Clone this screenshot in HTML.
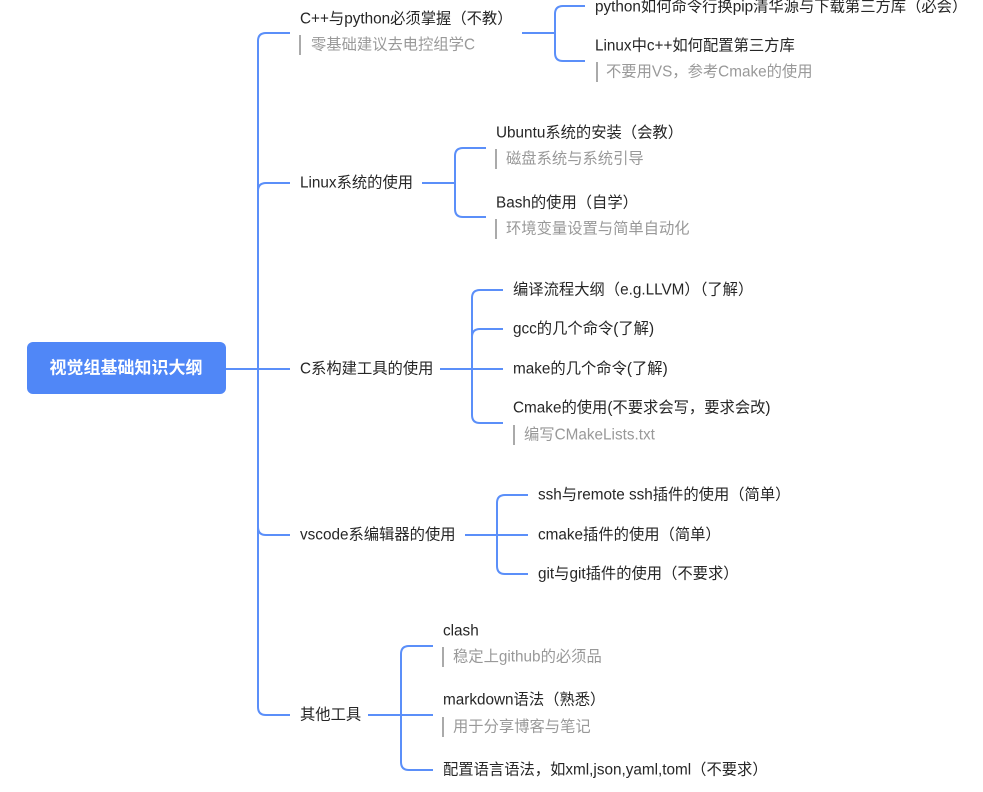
<!DOCTYPE html>
<html><head><meta charset="utf-8"><style>
html,body{margin:0;padding:0;background:#fff;width:983px;height:792px;overflow:hidden}
svg text{font-family:"Liberation Sans","Noto Sans CJK SC",sans-serif;font-size:15.3px;fill:#262626;dominant-baseline:central}
svg text.n{fill:#999}
</style></head><body>
<svg width="983" height="792" viewBox="0 0 983 792" xmlns="http://www.w3.org/2000/svg">
<g fill="none" stroke="#5b8ff9" stroke-width="2">
<path d="M226 369 H290"/>
<path d="M290 33 H266 Q258 33 258 41 V707 Q258 715 266 715 H290"/>
<path d="M258 191 Q258 183 266 183 H290"/>
<path d="M258 527 Q258 535 266 535 H290"/>
<path d="M522 33 H555"/>
<path d="M585 6 H563 Q555 6 555 14 V53 Q555 61 563 61 H585"/>
<path d="M422 183 H455"/>
<path d="M486 148 H463 Q455 148 455 156 V209 Q455 217 463 217 H486"/>
<path d="M440 369 H503"/>
<path d="M503 290 H480 Q472 290 472 298 V415 Q472 423 480 423 H503"/>
<path d="M472 337 Q472 329 480 329 H503"/>
<path d="M465 535 H528"/>
<path d="M528 495 H505 Q497 495 497 503 V566 Q497 574 505 574 H528"/>
<path d="M368 715 H433"/>
<path d="M433 646 H409 Q401 646 401 654 V762 Q401 770 409 770 H433"/>
</g>
<rect x="27" y="342" width="199" height="52" rx="6" fill="#5087f7"/>
<text x="126" y="368" text-anchor="middle" style="fill:#fff;font-size:17px;font-weight:bold">视觉组基础知识大纲</text>
<g fill="#aaa">
<rect x="299" y="35" width="2" height="20"/>
<rect x="596" y="62" width="2" height="20"/>
<rect x="495" y="149" width="2" height="20"/>
<rect x="495" y="219" width="2" height="20"/>
<rect x="513" y="425" width="2" height="20"/>
<rect x="442" y="647" width="2" height="20"/>
<rect x="442" y="717" width="2" height="20"/>
</g>
<text x="300" y="19">C++与python必须掌握（不教）</text>
<text class="n" x="311" y="45">零基础建议去电控组学C</text>
<text x="595" y="7">python如何命令行换pip清华源与下载第三方库（必会）</text>
<text x="595" y="46">Linux中c++如何配置第三方库</text>
<text class="n" x="606" y="72">不要用VS，参考Cmake的使用</text>
<text x="300" y="183">Linux系统的使用</text>
<text x="496" y="133">Ubuntu系统的安装（会教）</text>
<text class="n" x="506" y="159">磁盘系统与系统引导</text>
<text x="496" y="203">Bash的使用（自学）</text>
<text class="n" x="506" y="229">环境变量设置与简单自动化</text>
<text x="300" y="369">C系构建工具的使用</text>
<text x="513" y="290">编译流程大纲（e.g.LLVM）（了解）</text>
<text x="513" y="329">gcc的几个命令(了解)</text>
<text x="513" y="369">make的几个命令(了解)</text>
<text x="513" y="408">Cmake的使用(不要求会写，要求会改)</text>
<text class="n" x="524" y="435">编写CMakeLists.txt</text>
<text x="300" y="535">vscode系编辑器的使用</text>
<text x="538" y="495">ssh与remote ssh插件的使用（简单）</text>
<text x="538" y="535">cmake插件的使用（简单）</text>
<text x="538" y="574">git与git插件的使用（不要求）</text>
<text x="300" y="715">其他工具</text>
<text x="443" y="631">clash</text>
<text class="n" x="453" y="657">稳定上github的必须品</text>
<text x="443" y="700">markdown语法（熟悉）</text>
<text class="n" x="453" y="727">用于分享博客与笔记</text>
<text x="443" y="770">配置语言语法，如xml,json,yaml,toml（不要求）</text>
</svg>
</body></html>
